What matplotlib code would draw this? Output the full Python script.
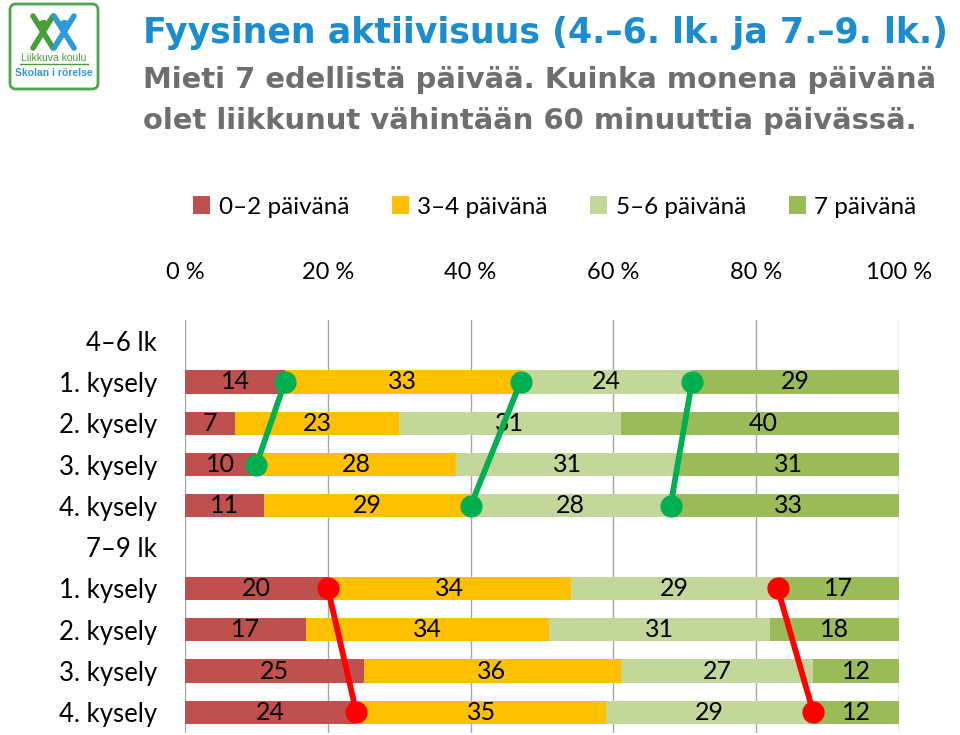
import numpy as np
import matplotlib
matplotlib.use("Agg")
import matplotlib.pyplot as plt
from matplotlib.patches import Patch, FancyBboxPatch

plt.rcParams['font.family'] = ['Lato', 'DejaVu Sans']

# --- data ---
row_labels = ["4–6 lk", "1. kysely", "2. kysely", "3. kysely", "4. kysely",
              "7–9 lk", "1. kysely", "2. kysely", "3. kysely", "4. kysely"]
series_names = ["0–2 päivänä", "3–4 päivänä", "5–6 päivänä", "7 päivänä"]
colors = ["#C0504D", "#FFC000", "#C4D79B", "#9BBB59"]

# 4.–6. lk, kyselyt 1-4
d02_46 = [14, 7, 10, 11]
d34_46 = [33, 23, 28, 29]
d56_46 = [24, 31, 31, 28]
d7_46 = [29, 40, 31, 33]
# 7.–9. lk, kyselyt 1-4
d02_79 = [20, 17, 25, 24]
d34_79 = [34, 34, 36, 35]
d56_79 = [29, 31, 27, 29]
d7_79 = [17, 18, 12, 12]

xticks = [0, 20, 40, 60, 80, 100]
xtick_labels = ["0 %", "20 %", "40 %", "60 %", "80 %", "100 %"]

# (from kysely, to kysely, boundary after n segments)
green_links = [(1, 3, 1), (1, 4, 2), (1, 4, 3)]
red_links = [(1, 4, 1), (1, 4, 3)]

groups = [
    (1, np.array([d02_46, d34_46, d56_46, d7_46])),
    (6, np.array([d02_79, d34_79, d56_79, d7_79])),
]

fig = plt.figure(figsize=(9.6, 7.35), dpi=100)
ax = fig.add_axes([185 / 960, 2 / 735, (899 - 185) / 960, (733 - 320) / 735])

for start, vals in groups:
    ypos = start + np.arange(vals.shape[1])
    left = np.zeros(vals.shape[1])
    for k in range(vals.shape[0]):
        ax.barh(ypos, vals[k], left=left, height=0.56, color=colors[k], zorder=2)
        for y, l, v in zip(ypos, left, vals[k]):
            ax.text(l + v / 2, y, str(v), ha="center", va="center",
                    fontsize=18, color="black", zorder=3)
        left = left + vals[k]


def draw_links(start, vals, links, col):
    cum = np.cumsum(vals, axis=0)
    for a, b, n in links:
        xs = [cum[n - 1][a - 1], cum[n - 1][b - 1]]
        ys = [start + a - 1, start + b - 1]
        ax.plot(xs, ys, color=col, lw=4.2, marker="o", ms=15, zorder=4,
                solid_capstyle="round")


draw_links(groups[0][0], groups[0][1], green_links, "#00B050")
draw_links(groups[1][0], groups[1][1], red_links, "#FF0000")

ax.set_xlim(0, 100)
ax.set_ylim(9.5, -0.5)
ax.set_yticks(range(len(row_labels)))
ax.set_yticklabels(row_labels, fontsize=18.5)
ax.set_xticks(xticks)
ax.set_xticklabels(xtick_labels, fontsize=17)
ax.xaxis.tick_top()
ax.tick_params(axis="x", length=0, pad=27)
ax.tick_params(axis="y", length=0, pad=20)
ax.grid(axis="x", color="#A6A6A6", lw=1)
ax.set_axisbelow(True)
for s in ax.spines.values():
    s.set_visible(False)

handles = [Patch(facecolor=c, edgecolor="none") for c in colors]
fig.legend(handles, series_names, loc="center", bbox_to_anchor=(0.578, 1 - 207 / 735),
           ncol=4, frameon=False, fontsize=17.5, handlelength=0.7, handleheight=0.7,
           handletextpad=0.35, columnspacing=1.75)

# title texts
fig.text(143 / 960, 1 - 33 / 735, "Fyysinen aktiivisuus (4.–6. lk. ja 7.–9. lk.)",
         family="DejaVu Sans", weight="bold", fontsize=25, color="#1B8DCE",
         va="center", ha="left")
fig.text(143 / 960, 1 - 80 / 735, "Mieti 7 edellistä päivää. Kuinka monena päivänä",
         family="DejaVu Sans", weight="bold", fontsize=20.9, color="#6E6E6E",
         va="center", ha="left")
fig.text(143 / 960, 1 - 121 / 735, "olet liikkunut vähintään 60 minuuttia päivässä.",
         family="DejaVu Sans", weight="bold", fontsize=20.9, color="#6E6E6E",
         va="center", ha="left")

# logo
lax = fig.add_axes([0, 1 - 100 / 735, 110 / 960, 100 / 735])
lax.set_xlim(0, 110)
lax.set_ylim(100, 0)
lax.axis("off")
lax.add_patch(FancyBboxPatch((10, 4), 88, 85, boxstyle="round,pad=0,rounding_size=6",
                             fill=False, ec="#4CA64C", lw=2))
for cx, c in [(43, "#4A9E3A"), (64, "#2E9AD8")]:
    lax.plot([cx - 10, cx + 10], [16, 48], color=c, lw=4, solid_capstyle="round")
    lax.plot([cx + 10, cx - 10], [16, 48], color=c, lw=4, solid_capstyle="round")
    lax.plot(cx, 25, "o", color=c, ms=7)
lax.text(54, 58, "Liikkuva koulu", ha="center", va="center", fontsize=7.5,
         color="#4A9E3A", family="Liberation Sans")
lax.plot([20, 88], [64, 64], color="#4A9E3A", lw=1)
lax.text(54, 73, "Skolan i rörelse", ha="center", va="center", fontsize=7.5,
         color="#2E9AD8", family="Liberation Sans", weight="bold")

fig.savefig("out.png", dpi=100)
